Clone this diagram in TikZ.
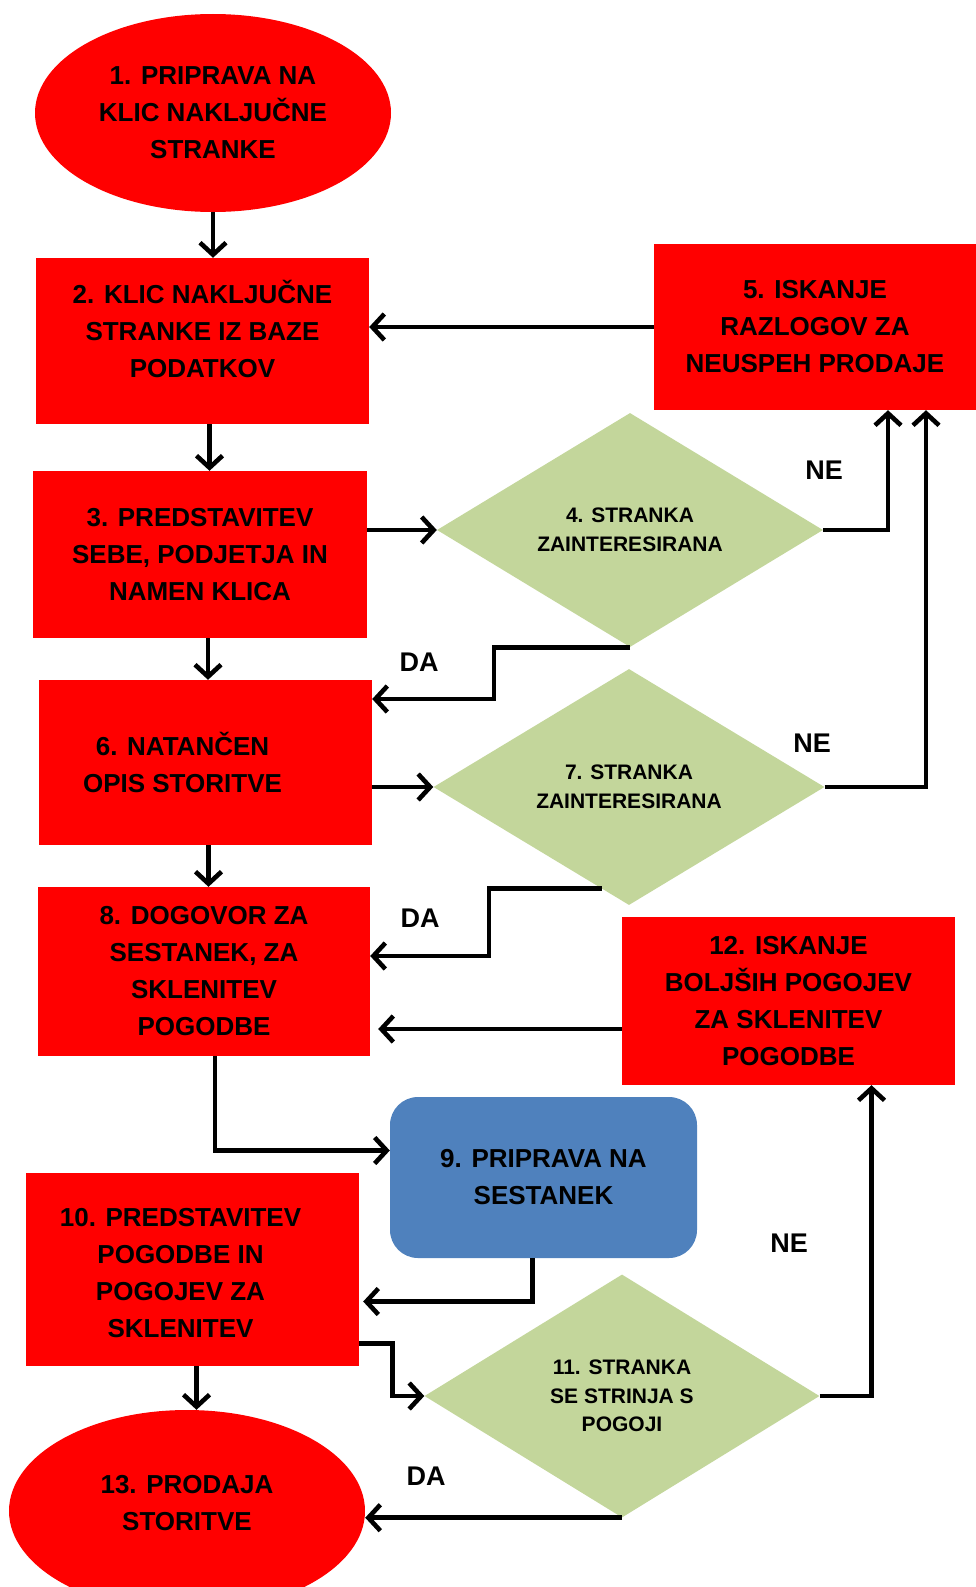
\documentclass[tikz,border=0pt]{standalone}
\usepackage{fontspec}
\setmainfont{Liberation Sans}
\usetikzlibrary{shapes.geometric,arrows.meta,calc}
\definecolor{boxred}{RGB}{255,0,0}
\definecolor{askgreen}{RGB}{195,214,155}
\definecolor{meetblue}{RGB}{79,129,189}

\begin{document}
\begin{tikzpicture}[x=1pt,y=-1pt,>={Straight Barb[length=12pt,width=26pt]},line join=miter,
  every node/.style={inner sep=0pt,align=center},
  bigfont/.style={font={\fontsize{26pt}{37pt}\selectfont\bfseries}},
  stepbox/.style={rectangle,fill=boxred,bigfont,minimum width=333pt},
  endpoint/.style={ellipse,fill=boxred,bigfont,minimum width=356pt,minimum height=200pt},
  askbox/.style={diamond,aspect=2,fill=askgreen,font={\fontsize{21pt}{28.5pt}\selectfont\bfseries}},
  meetbox/.style={rectangle,rounded corners=28pt,fill=meetblue,bigfont},
  answer/.style={font={\fontsize{27pt}{30pt}\selectfont\bfseries}},
  link/.style={line width=4.6pt}]
\useasboundingbox (0,0) rectangle (976,1587);

% Node: e1
\node[endpoint,minimum height=198pt] (e1) at (213,113) {1. PRIPRAVA NA\\KLIC NAKLJUČNE\\STRANKE};

% Node: b2
\node[stepbox,minimum height=166pt] (b2) at (202.5,341) {};
\node[bigfont] (t2) at ([yshift=12pt]b2.center) {2. KLIC NAKLJUČNE\\STRANKE IZ BAZE\\PODATKOV};

% Node: b3
\node[stepbox,minimum width=334pt,minimum height=167pt] (b3) at (200,554.5) {3. PREDSTAVITEV\\SEBE, PODJETJA IN\\NAMEN KLICA};

% Node: d4
\node[askbox,minimum width=386pt,minimum height=234pt] (d4) at (630,530) {4. STRANKA\\ZAINTERESIRANA};

% Node: b5
\node[stepbox,minimum width=322pt,minimum height=166pt] (b5) at (815,327) {5. ISKANJE\\RAZLOGOV ZA\\NEUSPEH PRODAJE};

% Node: b6
\node[stepbox,minimum height=165pt] (b6) at (205.5,762.5) {};
\node[bigfont] (t6) at ([xshift=-23pt]b6.center) {6. NATANČEN\\OPIS STORITVE};

% Node: d7
\node[askbox,minimum width=391pt,minimum height=236pt] (d7) at (629,787) {7. STRANKA\\ZAINTERESIRANA};

% Node: b8
\node[stepbox,minimum width=332pt,minimum height=169pt] (b8) at (204,971.5) {8. DOGOVOR ZA\\SESTANEK, ZA\\SKLENITEV\\POGODBE};

% Node: b9
\node[meetbox,minimum width=307pt,minimum height=161pt] (b9) at (543.5,1177.5) {9. PRIPRAVA NA\\SESTANEK};

% Node: b10
\node[stepbox,minimum height=193pt] (b10) at (192.5,1269.5) {};
\node[bigfont] (t10) at ([xshift=-12pt,yshift=-4pt]b10.center) {10. PREDSTAVITEV\\POGODBE IN\\POGOJEV ZA\\SKLENITEV};

% Node: d11
\node[askbox,minimum width=395pt,minimum height=243pt] (d11) at (622,1396) {11. STRANKA\\SE STRINJA S\\POGOJI};

% Node: b12
\node[stepbox,minimum height=168pt] (b12) at (788.5,1001) {12. ISKANJE\\BOLJŠIH POGOJEV\\ZA SKLENITEV\\POGODBE};

% Node: e13
\node[endpoint,minimum height=202pt] (e13) at (187,1511) {};
\node[bigfont] (t13) at ([yshift=8pt]e13.center) {13. PRODAJA\\STORITVE};

% Answers
\node[answer] (ne4) at (824,470) {NE};
\node[answer] (da4) at (419,662) {DA};
\node[answer] (ne7) at (812,743) {NE};
\node[answer] (da7) at (420,918) {DA};
\node[answer] (ne11) at (789,1243) {NE};
\node[answer] (da11) at (426,1476) {DA};

\coordinate (k4) at (494,699);
\coordinate (k7) at (489,956);

% Edge: e1 -> b2
\draw [->,link] (e1.south) -- (e1.south |- b2.north);
% Edge: b5 -> b2
\draw [->,link] (b5.west) -- (b5.west -| b2.east);
% Edge: b2 -> b3
\draw [->,link] ([xshift=7pt]b2.south) -- ([xshift=7pt]b2.south |- b3.north);
% Edge: b3 -> d4
\draw [->,link] (d4.west -| b3.east) -- (d4.west);
% Edge: d4 -> b5
\draw [->,link] (d4.east) -| ([xshift=73pt]b5.south);
% Edge: d4 -> b6
\draw [->,link] (d4.south) -| (k4) -- (k4 -| b6.east);
% Edge: b3 -> b6
\draw [->,link] ([xshift=8pt]b3.south) -- ([xshift=8pt]b3.south |- b6.north);
% Edge: b6 -> d7
\draw [->,link] (d7.west -| b6.east) -- (d7.west);
% Edge: d7 -> b5
\draw [->,link] (d7.east) -| ([xshift=111pt]b5.south);
% Edge: d7 -> b8
\draw [->,link] ($(d7.west)!0.86!(d7.south)$) -| (k7) -- (k7 -| b8.east);
% Edge: b6 -> b8
\draw [->,link] ([xshift=3pt]b6.south) -- ([xshift=3pt]b6.south |- b8.north);
% Edge: b12 -> b8
\draw [->,link,shorten >=8pt] ([yshift=-28pt]b12.west) -- ([yshift=-28pt]b12.west -| b8.east);
% Edge: b8 -> b9
\draw [->,link] ([xshift=11pt]b8.south) |- ([yshift=27pt]b9.west);
% Edge: b9 -> b10
\draw [->,link,shorten >=4pt] ([xshift=-11pt]b9.south) |- ([yshift=-32pt]b10.east);
% Edge: b10 -> d11
\draw [->,link] ([yshift=23pt]b10.south east) -- ++(33pt,0) |- (d11.west);
% Edge: b10 -> e13
\draw [->,link] ([xshift=4pt]b10.south) -- ([xshift=4pt]b10.south |- e13.north);
% Edge: d11 -> b12
\draw [->,link] (d11.east) -| ([xshift=83pt]b12.south);
% Edge: d11 -> e13
\draw [->,link] (d11.south) -- (d11.south -| e13.east);
%
\end{tikzpicture}
\end{document}
